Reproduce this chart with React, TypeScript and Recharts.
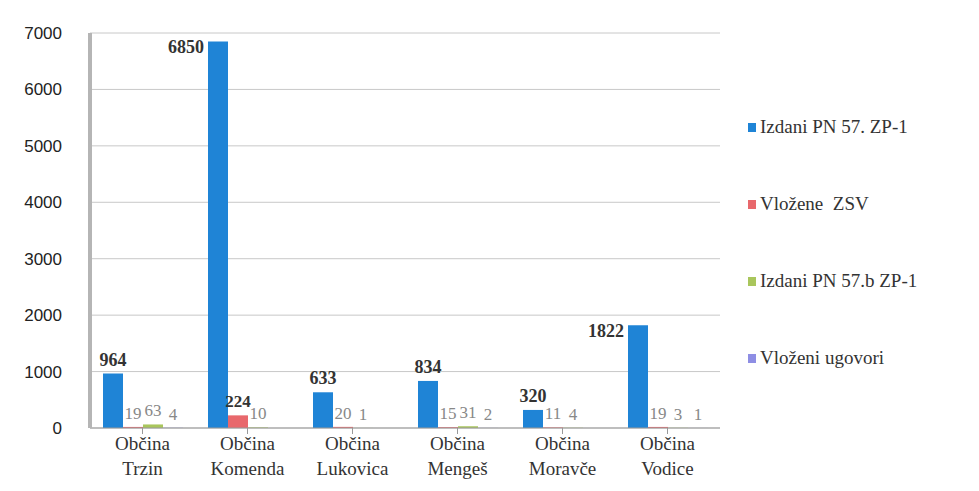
import React from 'react';
import { BarChart, Bar, XAxis, YAxis, CartesianGrid, LabelList } from 'recharts';

const municipalities = ['Trzin', 'Komenda', 'Lukovica', 'Mengeš', 'Moravče', 'Vodice'];
const izdaniPn57 = [964, 6850, 633, 834, 320, 1822];
const vlozeneZsv = [19, 224, 20, 15, 11, 19];
const izdaniPn57b = [63, 10, 1, 31, 4, 3];
const vlozeniUgovori = [4, 0, 0, 2, 0, 1];
const yTicks = [0, 1000, 2000, 3000, 4000, 5000, 6000, 7000];

const SERIES = [
  { key: 'pn57', name: 'Izdani PN 57. ZP-1', color: '#1f84d6' },
  { key: 'zsv', name: 'Vložene  ZSV', color: '#e8686c' },
  { key: 'pn57b', name: 'Izdani PN 57.b ZP-1', color: '#a9c65c' },
  { key: 'ugovori', name: 'Vloženi ugovori', color: '#8e8ee4' },
];

const data = municipalities.map((m, i) => ({
  name: m,
  pn57: izdaniPn57[i],
  zsv: vlozeneZsv[i],
  pn57b: izdaniPn57b[i],
  ugovori: vlozeniUgovori[i],
}));

const SERIF = "'Liberation Serif', 'Times New Roman', serif";

const CategoryTick = (props: any) => {
  const { x, y, payload } = props;
  return (
    <text x={x} y={y} textAnchor="middle" style={{ fontFamily: SERIF }} fontSize={19} fill="#333">
      <tspan x={x} dy={14}>Občina</tspan>
      <tspan x={x} dy={25}>{payload.value}</tspan>
    </text>
  );
};

const BlueLabel = (props: any) => {
  const { x, y, width, value } = props;
  const high = value > 1500;
  return (
    <text
      x={high ? x - 4 : x + width / 2}
      y={high ? y + 12 : y - 8}
      textAnchor={high ? 'end' : 'middle'}
      style={{ fontFamily: SERIF }}
      fontWeight="bold"
      fontSize={18}
      fill="#333"
    >
      {value}
    </text>
  );
};

const GrayLabel = (props: any) => {
  const { x, y, width, value } = props;
  const big = value > 100;
  return (
    <text
      x={x + width / 2}
      y={y - 8}
      textAnchor="middle"
      style={{ fontFamily: SERIF }}
      fontWeight={big ? 'bold' : 'normal'}
      fontSize={17}
      fill={big ? '#333' : '#888'}
    >
      {value}
    </text>
  );
};

export default function App() {
  return (
    <div style={{ position: 'relative', width: 963, height: 475, background: '#fff' }}>
      <BarChart
        width={963}
        height={475}
        data={data}
        margin={{ top: 25, right: 251, bottom: 0, left: 0 }}
        barCategoryGap={11}
        barGap={0}
      >
        <CartesianGrid vertical={false} stroke="#c8c8c8" />
        <XAxis
          dataKey="name"
          height={55}
          tick={<CategoryTick />}
          tickLine={{ stroke: '#999' }}
          axisLine={{ stroke: '#999' }}
          interval={0}
        />
        <YAxis
          width={82}
          domain={[0, 7000]}
          ticks={yTicks}
          tickLine={false}
          tickSize={6}
          tickMargin={22}
          axisLine={{ stroke: '#b5b5b5', strokeWidth: 4 }}
          tick={{ fontFamily: "'Liberation Sans', Arial, sans-serif", fontSize: 17, fill: '#222' }}
        />
        <Bar dataKey="pn57" name={SERIES[0].name} fill={SERIES[0].color} barSize={20} isAnimationActive={false}>
          <LabelList dataKey="pn57" content={<BlueLabel />} />
        </Bar>
        <Bar dataKey="zsv" name={SERIES[1].name} fill={SERIES[1].color} barSize={20} isAnimationActive={false}>
          <LabelList dataKey="zsv" content={<GrayLabel />} />
        </Bar>
        <Bar dataKey="pn57b" name={SERIES[2].name} fill={SERIES[2].color} barSize={20} isAnimationActive={false}>
          <LabelList dataKey="pn57b" content={<GrayLabel />} />
        </Bar>
        <Bar dataKey="ugovori" name={SERIES[3].name} fill={SERIES[3].color} barSize={20} isAnimationActive={false}>
          <LabelList dataKey="ugovori" content={<GrayLabel />} />
        </Bar>
      </BarChart>
      <div style={{ position: 'absolute', left: 740, top: 106, fontFamily: SERIF, fontSize: 19, color: '#333' }}>
        {SERIES.map((s) => (
          <div key={s.key} style={{ display: 'flex', alignItems: 'center', height: 26, marginBottom: 51, whiteSpace: 'pre' }}>
            <span style={{ width: 8, height: 9, background: s.color, marginRight: 4, display: 'inline-block' }} />
            {s.name}
          </div>
        ))}
      </div>
    </div>
  );
}
